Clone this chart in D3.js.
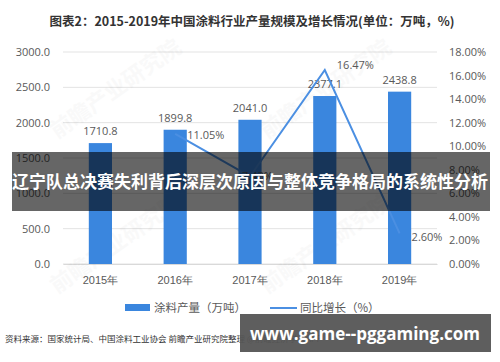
<!DOCTYPE html>
<html>
<head>
<meta charset="utf-8">
<script src="https://cdn.jsdelivr.net/npm/d3@7"></script>
<style>
  body { margin: 0; background: #fff; }
  svg { display: block; font-family: "Noto Sans CJK SC", "Noto Sans", sans-serif; }
</style>
</head>
<body>
<svg id="chart" width="500" height="362"></svg>
<script>
// data
var years = ["2015年", "2016年", "2017年", "2018年", "2019年"];
var output = [1710.8, 1899.8, 2041.0, 2377.1, 2438.8];
var growth = [null, 11.05, 7.43, 16.47, 2.60];
var leftTicks = [0, 500, 1000, 1500, 2000, 2500, 3000];
var rightTicks = [0, 2, 4, 6, 8, 10, 12, 14, 16, 18];

var svg = d3.select("#chart");
var plotTop = 52, plotBottom = 264, plotLeft = 63, plotRight = 437;
var barColor = "#3a86de", lineColor = "#4b8fe2", textColor = "#595959";

var x = d3.scaleBand().domain(years).range([plotLeft, plotRight]).paddingInner(0.69).paddingOuter(0.345);
var y = d3.scaleLinear().domain([0, 3000]).range([plotBottom, plotTop]);
var y2 = d3.scaleLinear().domain([0, 18]).range([plotBottom, plotTop]);

// title
svg.append("text").attr("x", 252).attr("y", 26).attr("text-anchor", "middle")
  .attr("font-size", 12.5).attr("font-weight", "bold").attr("fill", "#333")
  .text("图表2：2015-2019年中国涂料行业产量规模及增长情况(单位：万吨，%)");

// gridlines
svg.append("g").selectAll("line").data(leftTicks).join("line")
  .attr("x1", plotLeft).attr("x2", plotRight)
  .attr("y1", d => y(d)).attr("y2", d => y(d))
  .attr("stroke", "#e3e3e3").attr("stroke-width", 1);

// left axis
var ax = svg.append("g").attr("transform", "translate(" + plotLeft + ",0)")
  .call(d3.axisLeft(y).tickValues(leftTicks).tickFormat(d3.format(".1f")).tickSize(0).tickPadding(13));
ax.select(".domain").remove();
ax.selectAll("text").attr("font-size", 11).attr("fill", textColor).attr("font-family", "Open Sans, sans-serif");

// right axis
var ax2 = svg.append("g").attr("transform", "translate(" + plotRight + ",0)")
  .call(d3.axisRight(y2).tickValues(rightTicks).tickFormat(d => d.toFixed(2) + "%").tickSize(0).tickPadding(12));
ax2.select(".domain").remove();
ax2.selectAll("text").attr("font-size", 11).attr("fill", textColor).attr("font-family", "Open Sans, sans-serif");

// x axis
var ax3 = svg.append("g").attr("transform", "translate(0," + plotBottom + ")")
  .call(d3.axisBottom(x).tickSize(0).tickPadding(12));
ax3.select(".domain").attr("stroke", "#d9d9d9");
ax3.selectAll("text").attr("font-size", 11).attr("fill", textColor);

// faint watermark
[[120, 95], [330, 95], [120, 250], [330, 250]].forEach(function (p) {
  svg.append("text").attr("transform", "translate(" + p[0] + "," + p[1] + ") rotate(-35)")
    .attr("text-anchor", "middle").attr("font-size", 22).attr("font-weight", "bold")
    .attr("fill", "#000").attr("opacity", 0.02).text("前瞻产业研究院");
});

// bars
svg.append("g").selectAll("rect").data(output).join("rect")
  .attr("x", (d, i) => x(years[i])).attr("width", x.bandwidth())
  .attr("y", d => y(d)).attr("height", d => plotBottom - y(d))
  .attr("fill", barColor);

svg.append("g").selectAll("text").data(output).join("text")
  .attr("x", (d, i) => x(years[i]) + x.bandwidth() / 2)
  .attr("y", d => y(d) - 8).attr("text-anchor", "middle")
  .attr("font-size", 11).attr("fill", textColor).attr("font-family", "Open Sans, sans-serif")
  .text(d => d.toFixed(1));

// growth line
var pts = growth.map((g, i) => ({ year: years[i], g: g })).filter(d => d.g !== null);
var line = d3.line().x(d => x(d.year) + x.bandwidth() / 2).y(d => y2(d.g));
svg.append("path").datum(pts).attr("d", line)
  .attr("fill", "none").attr("stroke", lineColor).attr("stroke-width", 2);

var offs = { "2016年": [12, 5], "2017年": [-8, 4], "2018年": [12, -1], "2019年": [12, 8] };
svg.append("g").selectAll("text").data(pts).join("text")
  .attr("x", d => x(d.year) + x.bandwidth() / 2 + offs[d.year][0])
  .attr("y", d => y2(d.g) + offs[d.year][1])
  .attr("font-size", 11).attr("fill", textColor).attr("font-family", "Open Sans, sans-serif")
  .text(d => d.g.toFixed(2) + "%");

// legend
var lg = svg.append("g").attr("transform", "translate(0,308)");
lg.append("rect").attr("x", 125).attr("y", -4).attr("width", 25).attr("height", 7).attr("fill", barColor);
lg.append("text").attr("x", 154).attr("y", 4).attr("font-size", 11.5).attr("fill", textColor).text("涂料产量（万吨）");
lg.append("line").attr("x1", 270).attr("x2", 297).attr("y1", 0).attr("y2", 0).attr("stroke", lineColor).attr("stroke-width", 2);
lg.append("text").attr("x", 300).attr("y", 4).attr("font-size", 11.5).attr("fill", textColor).text("同比增长（%）");

// source
svg.append("text").attr("x", 5).attr("y", 342).attr("font-size", 8.5).attr("fill", "#333")
  .text("资料来源：国家统计局、中国涂料工业协会  前瞻产业研究院整理                  @前瞻经济学人APP");

// banner overlay
svg.append("rect").attr("x", 12).attr("y", 152).attr("width", 478).attr("height", 59)
  .attr("fill", "#000").attr("opacity", 0.6);
svg.append("text").attr("x", 250).attr("y", 188).attr("text-anchor", "middle")
  .attr("font-size", 17).attr("font-weight", "bold").attr("fill", "#fff")
  .text("辽宁队总决赛失利背后深层次原因与整体竞争格局的系统性分析");

// footer stamp
svg.append("rect").attr("x", 240).attr("y", 314).attr("width", 251).attr("height", 38)
  .attr("fill", "#555").attr("opacity", 0.95);
svg.append("text").attr("x", 365).attr("y", 340).attr("text-anchor", "middle")
  .attr("font-size", 18).attr("font-weight", "bold").attr("fill", "#fff")
  .attr("font-family", "Open Sans, DejaVu Sans, sans-serif")
  .attr("textLength", 230).attr("lengthAdjust", "spacingAndGlyphs")
  .text("www.game--pggaming.com");
</script>
</body>
</html>
